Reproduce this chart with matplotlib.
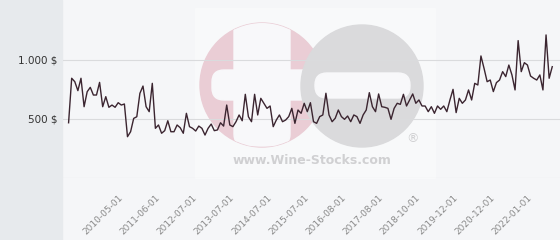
import matplotlib
matplotlib.use("Agg")
import matplotlib.pyplot as plt
from matplotlib.patches import Circle, FancyBboxPatch, Rectangle

# prix moyen (en $) par point de cotation
prices = [
    468, 845, 816, 740, 845, 604, 731, 768, 703, 703, 810, 604, 689, 599, 618, 599,
    638, 618, 627, 350, 392, 505, 519, 717, 779, 604, 562, 802, 421, 449, 379, 401,
    485, 392, 392, 449, 426, 379, 548, 435, 421, 398, 440, 421, 364, 421, 457, 401,
    407, 468, 440, 618, 449, 435, 477, 534, 485, 709, 519, 477, 709, 534, 675, 633,
    590, 610, 435, 491, 534,
    477, 491, 520, 590, 463, 576, 548, 633, 562, 638, 477, 463, 520, 534, 718, 534,
    477, 506, 576, 520, 497, 525, 477, 534, 520, 463, 534, 576, 723, 604, 562, 712,
    604, 599, 590, 497, 590, 633, 624, 709, 610, 661, 712, 633, 661, 610, 610, 562,
    604, 548, 610, 582, 610, 562, 661, 751, 554, 675, 633, 661, 746, 661, 802, 788,
    1034, 929, 816, 830, 732, 808, 830, 901, 859, 957, 873, 746, 1164, 901, 977, 957,
    864, 845, 830, 873, 746, 1212, 845, 943,
]
tick_labels = ["2010-05-01", "2011-06-01", "2012-07-01", "2013-07-01", "2014-07-01",
               "2015-07-01", "2016-08-01", "2017-08-01", "2018-10-01", "2019-12-01",
               "2020-12-01", "2022-01-01"]
tick_index = [17 + 12 * i for i in range(len(tick_labels))]
y_ticks = [500, 1000]
y_labels = ["500 $", "1.000 $"]

W, H = 560, 240
fig = plt.figure(figsize=(W / 100, H / 100), dpi=100)
fig.patch.set_facecolor("#f5f6f8")

# fond + filigrane
bg = fig.add_axes([0, 0, 1, 1])
bg.set_xlim(0, W)
bg.set_ylim(H, 0)
bg.axis("off")
bg.add_patch(Rectangle((0, 0), 62, H, color="#e7eaed", zorder=1))
bg.add_patch(Rectangle((195, 8), 240, 170, color="#f8f9fa", zorder=1))

pink = Circle((262, 85), 62, color="#eacdd5", zorder=2)
bg.add_patch(pink)
for (x, y, w, h) in [(234, 10, 56, 136), (212, 70, 130, 30)]:
    bar = FancyBboxPatch((x, y), w, h, boxstyle="round,pad=0,rounding_size=12",
                         color="#f8f8fa", zorder=3)
    bg.add_patch(bar)
    bar.set_clip_path(pink)
grey = Circle((362, 86), 61, color="#dadadc", zorder=4)
bg.add_patch(grey)
bg.add_patch(FancyBboxPatch((315, 73), 95, 25, boxstyle="round,pad=0,rounding_size=12",
                            color="#f8f8fa", zorder=5))
bg.text(312, 160, "www.Wine-Stocks.com", fontsize=9, fontweight="bold",
        color="#d0d0d2", ha="center", va="center", zorder=5)
bg.text(413, 139, "®", fontsize=9, color="#d0d0d2", ha="center", va="center", zorder=5)

ax = fig.add_axes([63 / W, 62 / H, 497 / W, 178 / H])
ax.patch.set_alpha(0)
x = list(range(len(prices)))
ax.plot(x, prices, color="#3b2530", linewidth=1.0, zorder=3)
for v in [0] + y_ticks:
    ax.axhline(v, color="#dadbdd", linewidth=0.8, zorder=1)

ax.set_xlim(-1.8, len(prices) + 1.5)
ax.set_ylim(0, 1508)
ax.set_yticks(y_ticks)
ax.set_yticklabels(y_labels, fontsize=7.5, color="#333333")
ax.set_xticks(tick_index)
ax.set_xticklabels(tick_labels, fontsize=6.5, color="#8a8a8a", rotation=45,
                   ha="right", va="center", rotation_mode="anchor")
ax.tick_params(axis="both", length=0)
ax.tick_params(axis="x", pad=13)
ax.tick_params(axis="y", pad=4)
for s in ax.spines.values():
    s.set_visible(False)

plt.savefig("out.png", dpi=100, facecolor=fig.get_facecolor())
